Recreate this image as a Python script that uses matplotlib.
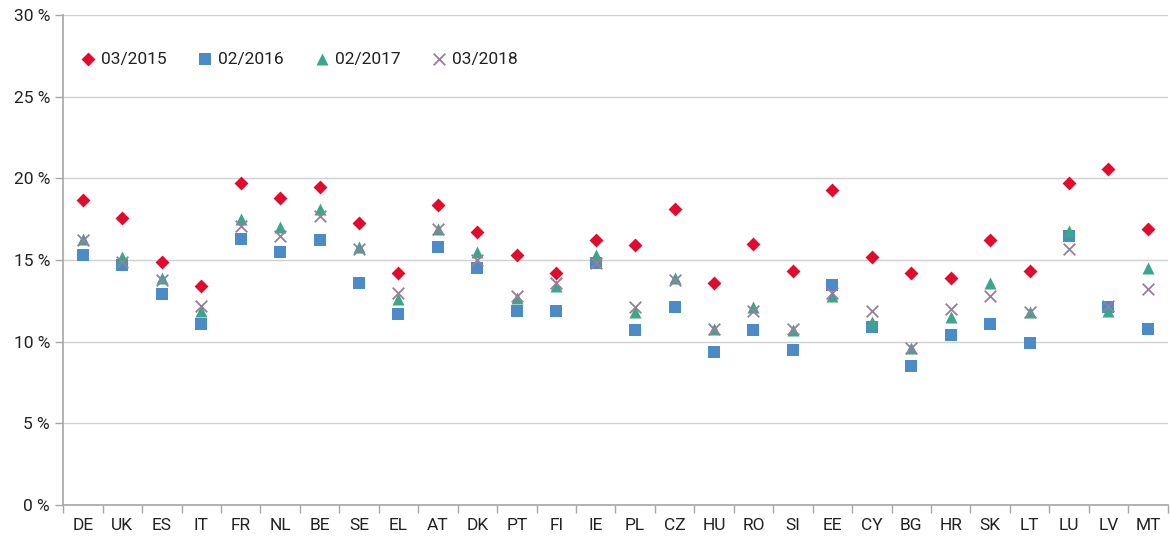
import numpy as np
import matplotlib.pyplot as plt
from matplotlib.ticker import FuncFormatter

countries = ["DE", "UK", "ES", "IT", "FR", "NL", "BE", "SE", "EL", "AT", "DK", "PT", "FI", "IE",
             "PL", "CZ", "HU", "RO", "SI", "EE", "CY", "BG", "HR", "SK", "LT", "LU", "LV", "MT"]

v_2015 = [18.7, 17.6, 14.9, 13.4, 19.7, 18.8, 19.5, 17.3, 14.2, 18.4, 16.7, 15.3, 14.2, 16.2,
          15.9, 18.1, 13.6, 16.0, 14.3, 19.3, 15.2, 14.2, 13.9, 16.2, 14.3, 19.7, 20.6, 16.9]
v_2016 = [15.3, 14.7, 12.9, 11.1, 16.3, 15.5, 16.2, 13.6, 11.7, 15.8, 14.5, 11.9, 11.9, 14.8,
          10.7, 12.1, 9.4, 10.7, 9.5, 13.5, 10.9, 8.5, 10.4, 11.1, 9.9, 16.5, 12.1, 10.8]
v_2017 = [16.3, 15.2, 13.9, 11.9, 17.5, 17.0, 18.1, 15.8, 12.6, 16.9, 15.5, 12.7, 13.4, 15.3,
          11.8, 13.9, 10.8, 12.1, 10.7, 12.8, 11.2, 9.6, 11.5, 13.6, 11.8, 16.8, 11.9, 14.5]
v_2018 = [16.2, 14.9, 13.8, 12.2, 17.1, 16.5, 17.7, 15.7, 13.0, 16.9, 15.0, 12.8, 13.6, 14.8,
          12.1, 13.8, 10.8, 11.9, 10.8, 13.0, 11.9, 9.6, 12.0, 12.8, 11.8, 15.7, 12.2, 13.2]

labels = ["03/2015", "02/2016", "02/2017", "03/2018"]

plt.rcParams['font.family'] = ['Roboto', 'DejaVu Sans']

fig = plt.figure(figsize=(11.7, 5.39), dpi=100)
ax = fig.add_axes([0.054, 0.063, 0.944, 0.909])

x = np.arange(len(countries))
ax.scatter(x, v_2015, marker="D", s=50, color="#e30b2d", label=labels[0], zorder=3, linewidths=0)
ax.scatter(x, v_2016, marker="s", s=75, color="#4a8bc8", label=labels[1], zorder=3, linewidths=0)
ax.scatter(x, v_2017, marker="^", s=75, color="#3ba78a", label=labels[2], zorder=4, linewidths=0)
ax.scatter(x, v_2018, marker="x", s=70, color="#9a7d9a", label=labels[3], zorder=5, linewidths=1.3)

ax.set_xlim(-0.5, len(countries) - 0.5)
ax.set_ylim(0, 30)
ax.set_yticks(np.arange(0, 31, 5))
ax.yaxis.set_major_formatter(FuncFormatter(lambda v, p: f"{int(v)} %"))
ax.grid(axis="y", color="#d0d0d0", linewidth=1)
ax.set_axisbelow(True)

ax.set_xticks(x)
ax.set_xticklabels(countries)
ax.set_xticks(np.arange(-0.5, len(countries)), minor=True)
ax.tick_params(axis="x", which="major", length=0, pad=9, labelsize=12.5, colors="#222222")
ax.tick_params(axis="x", which="minor", length=6, color="#a6a6a6", width=1)
ax.tick_params(axis="y", length=6, color="#a6a6a6", width=1, labelsize=12.5, labelcolor="#222222")

for side in ["top", "right"]:
    ax.spines[side].set_visible(False)
for side in ["left", "bottom"]:
    ax.spines[side].set_color("#a6a6a6")
    ax.spines[side].set_linewidth(1.2)

leg = ax.legend(loc="upper left", bbox_to_anchor=(0.0, 0.95), ncol=4, frameon=False,
                fontsize=12.5, handletextpad=0.0, columnspacing=1.45, handlelength=1.5,
                borderaxespad=0.3)
for t in leg.get_texts():
    t.set_color("#222222")

fig.savefig("out.png", dpi=100)
